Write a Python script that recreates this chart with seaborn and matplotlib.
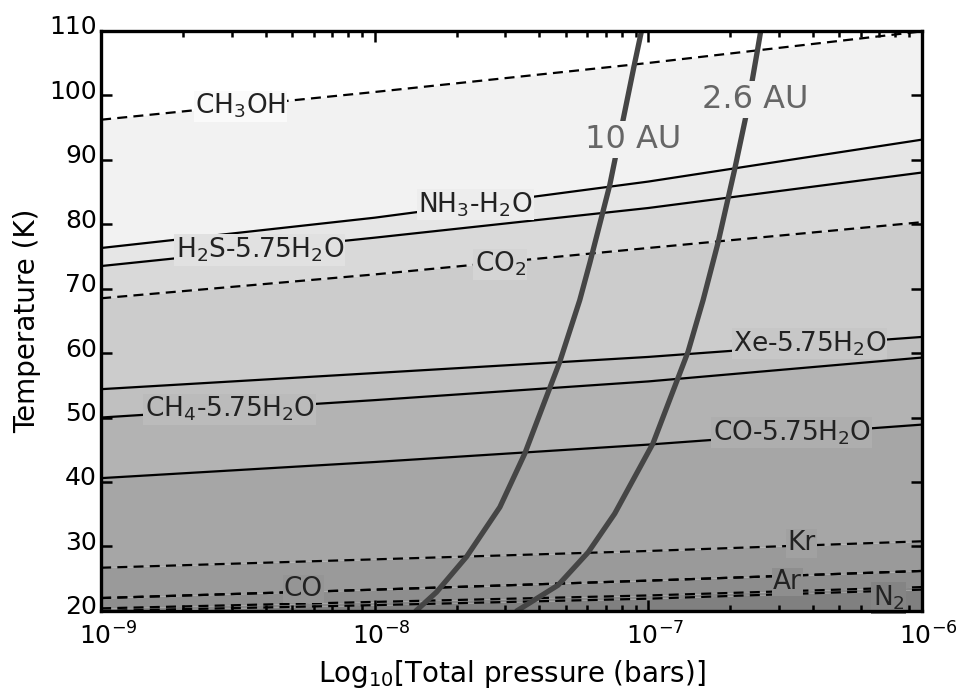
import numpy as np
import matplotlib
matplotlib.use("Agg")
import matplotlib.pyplot as plt
import matplotlib.colors as mcolors
import matplotlib.ticker as mticker
import matplotlib.transforms as mtransforms
import seaborn as sns

# Condensation / clathration curves, read at each pressure decade
pressure = [1e-9, 1e-8, 1e-7, 1e-6]
t_ch3oh = [96.2, 100.5, 105.0, 109.9]
t_nh3_h2o = [76.3, 81.0, 86.6, 93.1]
t_h2s = [73.5, 77.9, 82.5, 88.0]
t_co2 = [68.5, 72.2, 76.3, 80.3]
t_xe = [54.4, 56.9, 59.4, 62.5]
t_ch4 = [50.0, 52.7, 55.6, 59.3]
t_co_clath = [40.6, 43.1, 45.8, 48.9]
t_kr = [26.7, 28.0, 29.3, 30.8]
t_co = [22.0, 23.3, 24.7, 26.2]
t_ar = [22.0, 23.3, 24.7, 26.2]
t_n2_upper = [20.4, 21.4, 22.4, 23.7]
t_n2 = [20.0, 20.9, 21.9, 23.3]

# Nebula thermodynamic paths
au10_logp = [-7.849, -7.774, -7.664, -7.542, -7.451, -7.323, -7.250, -7.213, -7.140, -7.049, -7.024]
au10_t = [20.0, 22.9, 28.4, 36.1, 44.4, 58.65, 68.2, 74.0, 86.1, 105.0, 110.0]
au26_logp = [-7.480, -7.329, -7.219, -7.122, -6.982, -6.854, -6.799, -6.745, -6.684, -6.641, -6.600, -6.588]
au26_t = [20.0, 24.0, 29.1, 35.1, 46.0, 60.2, 68.2, 77.0, 88.4, 97.0, 107.0, 110.0]

# top-down order of curves and the grey of the band just below each one
curve_names = ["CH$_3$OH", "NH$_3$-H$_2$O", "H$_2$S-5.75H$_2$O", "CO$_2$", "Xe-5.75H$_2$O",
               "CH$_4$-5.75H$_2$O", "CO-5.75H$_2$O", "Kr", "CO", "Ar", "", "N$_2$"]
curve_temps = [t_ch3oh, t_nh3_h2o, t_h2s, t_co2, t_xe, t_ch4, t_co_clath,
               t_kr, t_co, t_ar, t_n2_upper, t_n2]
dashed = [True, False, False, True, False, False, False, True, True, True, True, True]
band_colors = ["#f2f2f2", "#e6e6e6", "#d9d9d9", "#cccccc", "#c0c0c0", "#b3b3b3",
               "#a6a6a6", "#9a9a9a", "#8e8e8e", "#8e8e8e", "#878787", "#808080"]
# label anchor (log10 P, T) for each curve
label_pos = [(-8.49, 98.3), (-7.63, 83.0), (-8.42, 76.0), (-7.54, 73.8), (-6.41, 61.5),
             (-8.53, 51.3), (-6.475, 47.7), (-6.44, 30.5), (-8.26, 23.4), (-6.49, 24.5),
             None, (-6.12, 22.0)]

sns.set_style("ticks")
plt.rcParams['font.family'] = ['DejaVu Sans']
plt.rcParams['mathtext.default'] = 'regular'

fig = plt.figure(figsize=(9.63, 6.99), dpi=100)
ax = fig.add_axes([0.105, 0.126, 0.852, 0.830])
ax.set_xscale("log")
ax.set_facecolor("white")
ax.set_axisbelow(False)

# grey bands between successive curves
for i, temps in enumerate(curve_temps):
    lower = curve_temps[i + 1] if i + 1 < len(curve_temps) else [0] * len(pressure)
    ax.fill_between(pressure, lower, temps, color=band_colors[i], lw=0, zorder=1)

dash = (0, (4.5, 2.8))
for temps, d in zip(curve_temps, dashed):
    sns.lineplot(x=pressure, y=temps, ax=ax, color="black", lw=1.6,
                 linestyle=dash if d else "-", zorder=3)

sns.lineplot(x=np.power(10.0, au10_logp), y=au10_t, ax=ax, color="#454545", lw=3.8,
             zorder=4, sort=False)
sns.lineplot(x=np.power(10.0, au26_logp), y=au26_t, ax=ax, color="#454545", lw=3.8,
             zorder=4, sort=False)

for i, (name, pos) in enumerate(zip(curve_names, label_pos)):
    if pos is None:
        continue
    above = np.array(mcolors.to_rgb("white" if i == 0 else band_colors[i - 1]))
    below = np.array(mcolors.to_rgb(band_colors[i]))
    face = tuple(0.6 * above + 0.4 * below)
    ax.text(10 ** pos[0], pos[1], name, fontsize=19, color="#222222", ha="center", va="center",
            zorder=6, bbox=dict(boxstyle="square,pad=0.05", fc=face, ec="none"))

for txt, lp, t in [("10 AU", -7.056, 93.1), ("2.6 AU", -6.607, 99.3)]:
    ax.text(10 ** lp, t, txt, fontsize=23, color="#666666", ha="center", va="center",
            zorder=6, bbox=dict(boxstyle="square,pad=0.1", fc="#f2f2f2", ec="none"))

ax.set_xlim(1e-9, 1e-6)
ax.set_ylim(20, 110)
ax.set_xticks([1e-9, 1e-8, 1e-7, 1e-6])
ax.xaxis.set_minor_locator(mticker.FixedLocator(
    [m * 10.0 ** e for e in (-9, -8, -7) for m in range(2, 10)]))
ax.xaxis.set_minor_formatter(mticker.NullFormatter())
ax.set_yticks(np.arange(20, 111, 10))
ax.tick_params(which="both", direction="in", top=True, right=True, labelsize=18,
               width=1.8, color="black", labelcolor="black")
ax.tick_params(which="major", length=8, pad=3)
ax.tick_params(axis="x", which="major", pad=8)
ax.tick_params(which="minor", length=4)
for sp in ax.spines.values():
    sp.set_linewidth(2.4)
    sp.set_color("black")
    sp.set_zorder(7)

# y labels sit a little above their ticks, x labels centre the "10" on the tick
up = mtransforms.ScaledTranslation(0, 6 / 100, fig.dpi_scale_trans)
right = mtransforms.ScaledTranslation(7 / 100, 0, fig.dpi_scale_trans)
for lab in ax.get_yticklabels():
    lab.set_transform(lab.get_transform() + up)
for lab in ax.get_xticklabels():
    lab.set_transform(lab.get_transform() + right)

ax.set_xlabel("Log$_{10}$[Total pressure (bars)]", fontsize=20, labelpad=6, color="black")
ax.set_ylabel("Temperature (K)", fontsize=20, labelpad=6, color="black")

fig.savefig("out.png", dpi=100)
plt.close(fig)
